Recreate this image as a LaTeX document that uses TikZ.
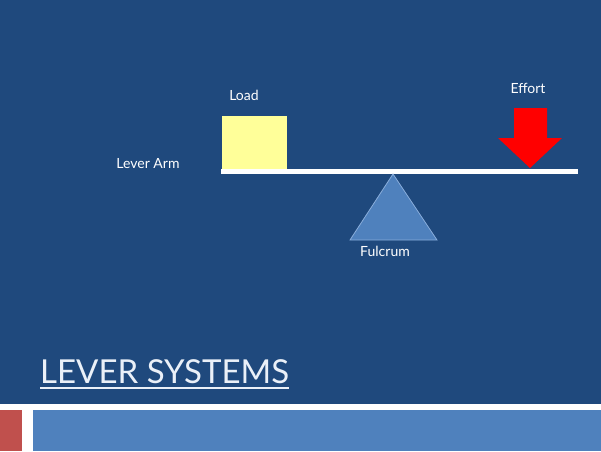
\documentclass[tikz,border=0pt]{standalone}
\usepackage{fontspec}
\setmainfont{Lato}
\usetikzlibrary{positioning}
\definecolor{slidebg}{HTML}{1F497D}
\definecolor{stripred}{HTML}{C0504D}
\definecolor{stripblue}{HTML}{4F81BD}
\definecolor{loadyellow}{HTML}{FFFF99}
\definecolor{fulcblue}{HTML}{4F81BD}
\definecolor{fulcedge}{HTML}{8AAEDB}
\definecolor{titlewhite}{HTML}{EAF0F8}

\begin{document}
\begin{tikzpicture}[x=1pt,y=-1pt,label text/.style={text=white,inner sep=0pt,font=\fontsize{14}{16}\selectfont}]
    \useasboundingbox (0,0) rectangle (601,451);
    % slide background and bottom strips
    \fill[slidebg] (0,0) rectangle (601,404);
    \fill[white] (0,404) rectangle (601,451);
    \fill[stripred] (0,410) rectangle (22,451);
    \fill[stripblue] (33,410) rectangle (601,451);

    % lever, load, fulcrum, effort
    \fill[white] (221,169) rectangle (578,174);
    \fill[loadyellow] (222,116) rectangle (287,169);
    \filldraw[fill=fulcblue,draw=fulcedge,line width=0.8pt] (393,174) -- (437,240) -- (350,240) -- cycle;
    \fill[red] (514,108) -- (547,108) -- (547,138) -- (562,138) -- (530,168) -- (498,138) -- (514,138) -- cycle;

    \node[label text] (load) at (244,95) {Load};
    \node[label text] (arm) at (148,164) {Lever Arm};
    \node[label text] (fulcrum) at (385,251) {Fulcrum};
    \node[label text] (effort) at (528,88) {Effort};

    \node[text=titlewhite,inner sep=0pt,anchor=base west,font=\fontsize{33}{36}\selectfont] (title) at (40,383) {LEVER SYSTEMS};
    \draw[titlewhite,line width=1.3pt] ([yshift=-5pt]title.base west) -- ([yshift=-5pt]title.base east);
\end{tikzpicture}
\end{document}
